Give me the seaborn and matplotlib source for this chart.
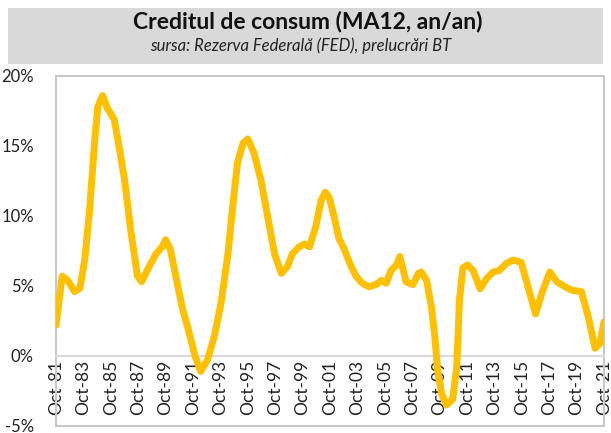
import matplotlib
matplotlib.use("Agg")
import matplotlib.pyplot as plt
import matplotlib.patches as mpatches
import numpy as np
import pandas as pd
import seaborn as sns

# decimal years (Oct-81 = 1981.75) and consumer credit growth, % y/y (MA12)
years = [
    1981.75, 1982.2, 1982.6, 1983.1, 1983.5, 1983.85, 1984.2, 1984.6, 1984.8, 1985.15,
    1985.5, 1986.0, 1986.4, 1986.75, 1987.2, 1987.7, 1988.0, 1988.55, 1989.05, 1989.5,
    1989.75, 1990.1, 1990.6, 1991.0, 1991.35, 1991.9, 1992.3, 1992.8, 1993.3, 1993.8,
    1994.3, 1994.65, 1995.0, 1995.4, 1995.75, 1996.2, 1996.7, 1997.2, 1997.7, 1998.2,
    1998.65, 1999.0, 1999.5, 1999.9, 2000.25, 2000.7, 2001.1, 2001.4, 2001.7, 2002.05,
    2002.4, 2002.8, 2003.2, 2003.65, 2004.1, 2004.6, 2005.1, 2005.5, 2005.85, 2006.2,
    2006.6, 2006.85, 2007.1, 2007.3, 2007.8, 2008.2, 2008.4, 2008.8, 2009.15, 2009.4,
    2009.6, 2009.9, 2010.25, 2010.7, 2011.0, 2011.2, 2011.45, 2011.8, 2012.2, 2012.7,
    2013.15, 2013.65, 2014.1, 2014.6, 2015.1, 2015.7, 2016.2, 2016.75, 2017.25, 2017.8,
    2018.3, 2018.9, 2019.4, 2020.1, 2020.6, 2021.1, 2021.45, 2021.75,
]
growth = [
    2.2, 5.7, 5.4, 4.6, 4.85, 6.9, 10.4, 15.7, 17.8, 18.6,
    17.7, 16.9, 14.7, 12.6, 9.0, 5.7, 5.3, 6.4, 7.3, 7.8,
    8.3, 7.6, 5.2, 3.3, 2.1, 0.0, -1.1, -0.3, 1.4, 3.8,
    7.3, 10.7, 13.8, 15.2, 15.5, 14.5, 12.6, 9.95, 7.3, 5.9,
    6.4, 7.3, 7.8, 8.0, 7.8, 9.2, 11.1, 11.7, 11.3, 9.95,
    8.4, 7.6, 6.6, 5.7, 5.2, 4.95, 5.1, 5.4, 5.2, 6.1,
    6.5, 7.1, 6.1, 5.3, 5.1, 5.9, 6.0, 5.4, 3.5, 1.4,
    -1.0, -2.7, -3.5, -3.1, -0.8, 4.0, 6.3, 6.5, 6.1, 4.8,
    5.5, 6.0, 6.1, 6.6, 6.85, 6.7, 4.95, 3.0, 4.6, 6.0,
    5.3, 4.95, 4.7, 4.6, 2.8, 0.55, 0.9, 2.45,
]

tick_years = [1981.75 + 2 * k for k in range(21)]
tick_labels = ["Oct-%02d" % (int(y) % 100) for y in tick_years]
y_ticks = [-5, 0, 5, 10, 15, 20]
y_labels = ["-5%", "0%", "5%", "10%", "15%", "20%"]

title = "Creditul de consum (MA12, an/an)"
subtitle = "sursa: Rezerva Federală (FED), prelucrări BT"

df = pd.DataFrame({"an": years, "crestere": growth})

sns.set_theme(style="white")
plt.rcParams["font.family"] = ["Lato", "DejaVu Sans"]

fig = plt.figure(figsize=(6.11, 4.33), dpi=100)
ax = fig.add_axes([56 / 611, 1 - 426 / 433, 548 / 611, 350 / 433])

# horizontal axis crosses at 0% (set before ticks: this resets them)
for side in ["top", "right", "left"]:
    ax.spines[side].set_visible(False)
ax.spines["bottom"].set_position(("data", 0))
ax.spines["bottom"].set_color("#D9D9D9")
ax.spines["bottom"].set_linewidth(1.5)

sns.lineplot(data=df, x="an", y="crestere", ax=ax, color="#FFC000", linewidth=5,
             zorder=5, solid_joinstyle="round", solid_capstyle="round")

ax.set_xlim(1981.75, 2021.75)
ax.set_ylim(-5, 20)
ax.set_xticks(tick_years)
ax.set_xticklabels(tick_labels, rotation=90, fontsize=12.5, color="#222222",
                   va="top", ha="center")
ax.set_yticks(y_ticks)
ax.set_yticklabels(y_labels, fontsize=12, color="#222222")
ax.tick_params(axis="both", length=0)
ax.tick_params(axis="x", pad=3)
ax.tick_params(axis="y", pad=16)
ax.set_xlabel("")
ax.set_ylabel("")

# plot area border
ax.add_patch(mpatches.Rectangle((0, 0), 1, 1, transform=ax.transAxes, fill=False,
                                edgecolor="#C8C8C8", linewidth=1.5, zorder=1,
                                clip_on=False))

# title box
fig.patches.append(mpatches.Rectangle((8 / 611, 1 - 64 / 433), 595 / 611, 56 / 433,
                                      transform=fig.transFigure, facecolor="#D9D9D9",
                                      edgecolor="none", zorder=0))
fig.text(308 / 611, 1 - 22 / 433, title, ha="center", va="center",
         fontsize=16.5, fontweight="bold", color="#111111")
fig.text(301 / 611, 1 - 46 / 433, subtitle, ha="center", va="center",
         fontsize=12, fontstyle="italic", color="#222222")

fig.savefig("out.png", dpi=100)
